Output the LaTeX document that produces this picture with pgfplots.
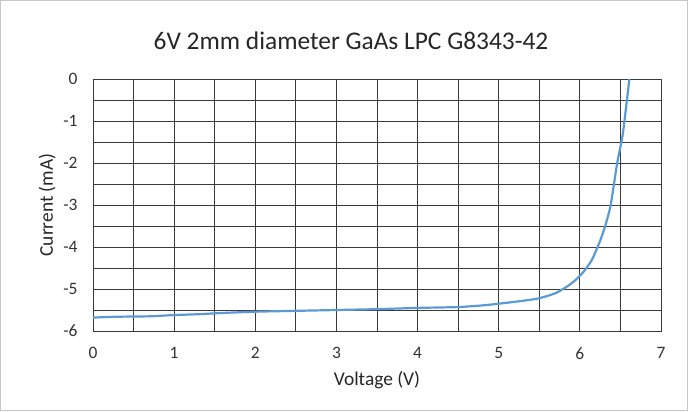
\documentclass[border=0pt]{standalone}
\usepackage{pgfplots}
\pgfplotsset{compat=1.18}
\usepackage{fontspec}
\setmainfont{Carlito}
\definecolor{exblue}{HTML}{5B9BD5}
\definecolor{gridc}{HTML}{3A3A3A}
\begin{document}
\begin{tikzpicture}[x=1bp,y=1bp]
\useasboundingbox (-93,-80) rectangle (600,331);
\draw[draw=black!22, line width=1bp] (-92.5,-79.5) rectangle (594.5,330.5);
\begin{axis}[
  at={(0,0)}, anchor=south west,
  scale only axis, width=568bp, height=252bp,
  xmin=0, xmax=7, ymin=-6, ymax=0,
  xtick={0,1,...,7}, ytick={-6,-5,...,0},
  minor xtick={0.5,1.5,...,6.5},
  minor ytick={-5.5,-4.5,...,-0.5},
  grid=both,
  major grid style={draw=gridc, line width=0.9bp},
  minor grid style={draw=gridc, line width=0.9bp},
  axis line style={draw=gridc, line width=0.9bp},
  tick style={draw=none},
  /pgf/number format/assume math mode=true,
  ticklabel style={font=\fontsize{17.5}{20}\selectfont, text=black!80},
  xticklabel style={yshift=-13bp},
  yticklabel style={xshift=-12bp},
  xlabel={Voltage (V)}, ylabel={Current (mA)},
  label style={font=\fontsize{19.5}{22}\selectfont, text=black!85},
  xlabel style={yshift=-5bp},
  ylabel style={yshift=1bp},
  clip=true,
]
\addplot[exblue, line width=2.2bp, smooth, tension=0.35] coordinates {
(0,-5.68) (0.3,-5.66) (0.7,-5.65) (1.0,-5.62) (1.3,-5.60) (1.6,-5.57)
(2.0,-5.54) (2.5,-5.52) (3.0,-5.50) (3.5,-5.48) (4.0,-5.45) (4.5,-5.43)
(4.8,-5.39) (5.0,-5.35) (5.3,-5.28) (5.5,-5.22) (5.7,-5.10) (5.85,-4.93)
(5.95,-4.78) (6.05,-4.58) (6.15,-4.30) (6.25,-3.85) (6.32,-3.45) (6.38,-3.0)
(6.46,-2.0) (6.53,-1.3) (6.61,0) (6.62,0.15)
};
\end{axis}
\node[font=\fontsize{25.5}{30}\selectfont, text=black!85] at (258,290) {6V 2mm diameter GaAs LPC G8343-42};
\end{tikzpicture}
\end{document}
